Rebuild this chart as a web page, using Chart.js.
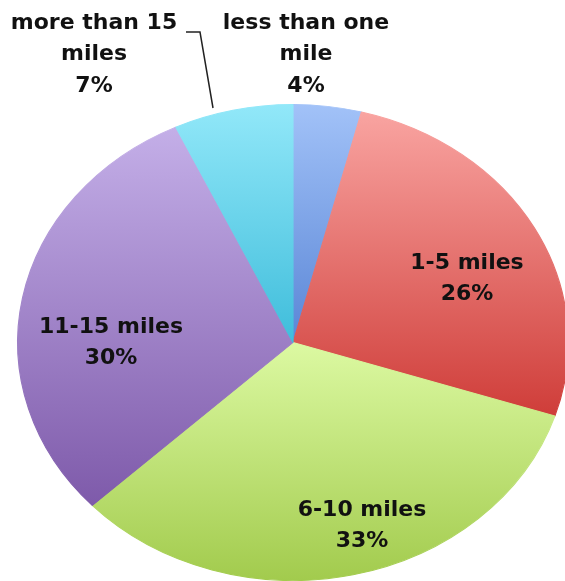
<!DOCTYPE html>
<html>
<head>
<meta charset="utf-8">
<script src="https://cdn.jsdelivr.net/npm/chart.js@4"></script>
<style>
  html, body { margin: 0; padding: 0; background: #fff; }
  canvas { display: block; }
</style>
</head>
<body>
<canvas id="pie" width="565" height="581" style="width:565px;height:581px"></canvas>
<script>
const categories = ['less than one mile', '1-5 miles', '6-10 miles', '11-15 miles', 'more than 15 miles']
const shares = [4, 26, 33, 30, 7]
const labelLines = [
  ['less than one', 'mile', '4%'],
  ['1-5 miles', '26%'],
  ['6-10 miles', '33%'],
  ['11-15 miles', '30%'],
  ['more than 15', 'miles', '7%']
]
const topColors = ['#a2c2f8', '#f9a4a1', '#dcf9a2', '#c4afe8', '#92e8f9']
const bottomColors = ['#5a86d6', '#cf3d39', '#a2cb4d', '#7e5aaa', '#3fbddb']

// the pie in the picture is an ellipse, wider than tall
const stretchX = 1.157
// where each label block sits (centre x, first line y)
const labelPos = [[306, 23], [467, 263], [362, 510], [111, 327], [94, 23]]

// vertical extent of a slice, so each one gets its own light-to-dark fill
function sliceSpan(i, area) {
  const total = shares.reduce((a, b) => a + b, 0)
  let start = 0
  for (let k = 0; k < i; k++) start += shares[k]
  const a0 = start / total * 2 * Math.PI
  const a1 = (start + shares[i]) / total * 2 * Math.PI
  const cy = (area.top + area.bottom) / 2
  const r = Math.min(area.right - area.left, area.bottom - area.top) / 2
  const ys = [cy, cy - r * Math.cos(a0), cy - r * Math.cos(a1)]
  if (a0 <= Math.PI && a1 >= Math.PI) ys.push(cy + r)
  return [Math.min(...ys), Math.max(...ys)]
}

function sliceFill(ctx) {
  const area = ctx.chart.chartArea
  const i = ctx.dataIndex
  if (!area) return bottomColors[i]
  const [y0, y1] = sliceSpan(i, area)
  const g = ctx.chart.ctx.createLinearGradient(0, y0, 0, y1)
  g.addColorStop(0, topColors[i])
  g.addColorStop(1, bottomColors[i])
  return g
}

const ellipse = {
  id: 'ellipse',
  beforeDatasetsDraw(chart) {
    const c = chart.ctx
    const cx = (chart.chartArea.left + chart.chartArea.right) / 2
    c.save()
    c.translate(cx, 0)
    c.scale(stretchX, 1)
    c.translate(-cx, 0)
  },
  afterDatasetsDraw(chart) {
    chart.ctx.restore()
  }
}

const sliceLabels = {
  id: 'sliceLabels',
  afterDraw(chart) {
    const c = chart.ctx
    c.save()
    c.font = 'bold 22px "DejaVu Sans"'
    c.fillStyle = '#111'
    c.textAlign = 'center'
    c.textBaseline = 'middle'
    labelLines.forEach((lines, i) => {
      lines.forEach((t, j) => c.fillText(t, labelPos[i][0], labelPos[i][1] + j * 31.5))
    })
    // leader line for the 7% slice
    c.strokeStyle = '#222'
    c.lineWidth = 1.5
    c.beginPath()
    c.moveTo(186, 32)
    c.lineTo(200, 32)
    c.lineTo(213, 108)
    c.stroke()
    c.restore()
  }
}

new Chart(document.getElementById('pie').getContext('2d'), {
  type: 'pie',
  data: {
    labels: categories,
    datasets: [
      {
        data: shares,
        backgroundColor: sliceFill,
        borderColor: sliceFill,
        borderWidth: 1,
        clip: false
      }
    ]
  },
  options: {
    responsive: false,
    animation: false,
    layout: { padding: { top: 104, bottom: 0, left: 54.5, right: 33.5 } },
    plugins: {
      legend: { display: false },
      tooltip: { enabled: false }
    }
  },
  plugins: [ellipse, sliceLabels]
})
</script>
</body>
</html>
